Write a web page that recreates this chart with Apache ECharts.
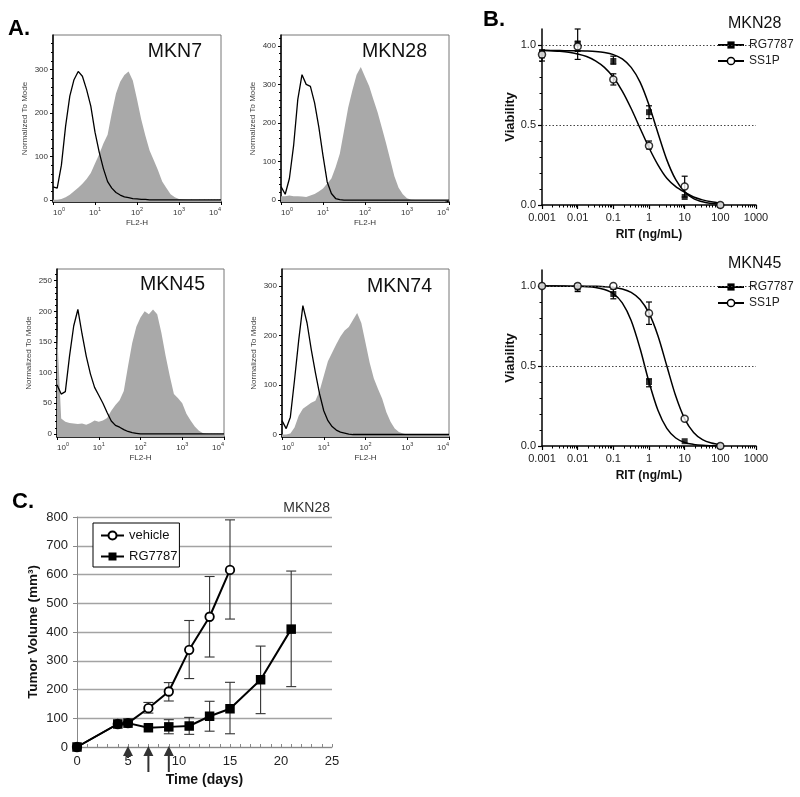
<!DOCTYPE html>
<html><head><meta charset="utf-8">
<script src="https://cdn.jsdelivr.net/npm/echarts@6/dist/echarts.min.js"></script>
<style>html,body{margin:0;padding:0;background:#fff}#c{width:800px;height:797px}</style>
</head><body><div id="c"></div><script>
const FONT = '"Liberation Sans", Arial, Helvetica, sans-serif';

// ---------- Panel A: flow cytometry histograms (x = log10 FL2-H) ----------
const LOGX = [0,0.1,0.2,0.3,0.4,0.5,0.6,0.7,0.8,0.9,1,1.1,1.2,1.3,1.4,1.5,1.6,1.7,1.8,1.9,2,2.1,2.2,2.3,2.4,2.5,2.6,2.7,2.8,2.9,3,3.1,3.2,3.3,3.4,3.5,3.6,3.7,3.8,3.9,4];
const MKN7_STAINED  = [0,0,2,6,12,20,28,37,48,62,84,105,130,150,200,245,272,288,296,275,232,186,148,114,91,68,42,27,13,6,2,1,0,0,0,0,0,0,0,0,0];
const MKN7_CONTROL  = [30,27,80,170,239,277,296,285,254,216,156,110,72,42,27,17,11,7,5,3,2,1,1,0,0,0,0,0,0,0,0,0,0,0,0,0,0,0,0,0,0];
const MKN28_STAINED = [10,10,12,10,10,9,8,12,16,22,30,43,56,85,120,180,240,285,325,345,320,295,261,228,188,148,105,62,32,15,5,1,0,0,0,0,0,0,0,0,0];
const MKN28_CONTROL = [35,15,56,141,261,325,300,295,252,190,115,47,17,4,1,0,0,0,0,0,0,0,0,0,0,0,0,0,0,0,0,0,0,0,0,0,0,0,0,0,0];
const MKN45_STAINED = [170,25,20,18,17,16,17,15,18,22,20,22,26,38,47,55,70,110,148,175,190,200,195,203,195,165,128,95,65,58,50,33,22,12,5,1,0,0,0,0,0];
const MKN45_CONTROL = [80,65,69,127,176,203,163,127,98,76,63,50,35,21,14,11,7,4,2,1,0,0,0,0,0,0,0,0,0,0,0,0,0,0,0,0,0,0,0,0,0];
const MKN74_STAINED = [0,0,2,14,38,52,58,64,68,88,118,148,165,182,198,210,217,231,245,225,185,145,113,92,72,45,26,12,5,2,0,0,0,0,0,0,0,0,0,0,0];
const MKN74_CONTROL = [28,12,35,110,190,260,225,172,125,82,48,28,16,9,5,3,1,0,0,0,0,0,0,0,0,0,0,0,0,0,0,0,0,0,0,0,0,0,0,0,0];
const A_YTICKS_MKN7  = [0,100,200,300];
const A_YTICKS_MKN28 = [0,100,200,300,400];
const A_YTICKS_MKN45 = [0,50,100,150,200,250];
const A_YTICKS_MKN74 = [0,100,200,300];

// ---------- Panel B: dose response ----------
const B_DOSES = [0.001, 0.01, 0.1, 1, 10, 100];
const B_TICK_LABELS = ['0.001','0.01','0.1','1','10','100','1000'];
const MKN28_RG_MEAN = [0.95, 1.01, 0.90, 0.58, 0.05, 0.0];
const MKN28_RG_LO   = [0.92, 0.91, 0.88, 0.54, 0.05, 0.0];
const MKN28_RG_HI   = [0.97, 1.10, 0.93, 0.62, 0.05, 0.0];
const MKN28_SS_MEAN = [0.94, 0.99, 0.785, 0.37, 0.115, 0.0];
const MKN28_SS_LO   = [0.90, 0.96, 0.75, 0.35, 0.05, 0.0];
const MKN28_SS_HI   = [0.96, 1.02, 0.82, 0.40, 0.18, 0.0];
const MKN45_RG_MEAN = [1.0, 0.99, 0.95, 0.40, 0.03, 0.0];
const MKN45_RG_LO   = [1.0, 0.965, 0.92, 0.37, 0.03, 0.0];
const MKN45_RG_HI   = [1.0, 1.015, 0.98, 0.42, 0.03, 0.0];
const MKN45_SS_MEAN = [1.0, 1.0, 1.0, 0.83, 0.17, 0.0];
const MKN45_SS_LO   = [1.0, 1.0, 1.0, 0.76, 0.17, 0.0];
const MKN45_SS_HI   = [1.0, 1.0, 1.0, 0.90, 0.17, 0.0];
const FIT_X = [0.001,0.00178,0.00316,0.00562,0.01,0.0178,0.0316,0.0562,0.1,0.178,0.316,0.562,1,1.78,3.16,5.62,10,17.8,31.6,56.2,100];
const MKN28_RG_FIT = [0.965,0.965,0.965,0.964,0.964,0.962,0.959,0.953,0.940,0.913,0.860,0.768,0.625,0.450,0.282,0.158,0.082,0.040,0.020,0.009,0.005];
const MKN28_SS_FIT = [0.967,0.964,0.961,0.955,0.944,0.928,0.901,0.860,0.798,0.712,0.603,0.480,0.358,0.251,0.167,0.115,0.080,0.050,0.032,0.020,0.012];
const MKN45_RG_FIT = [1.0,1.0,0.999,0.999,0.998,0.996,0.991,0.978,0.952,0.894,0.784,0.609,0.400,0.223,0.110,0.050,0.022,0.010,0.004,0.002,0.001];
const MKN45_SS_FIT = [1.0,1.0,1.0,0.999,0.999,0.999,0.998,0.996,0.991,0.981,0.960,0.915,0.830,0.689,0.500,0.312,0.170,0.085,0.040,0.019,0.009];

// ---------- Panel C: xenograft growth ----------
const C_DAYS_VEH = [0,4,5,7,9,11,13,15];
const C_VEH      = [0,80,83,135,193,338,453,616];
const C_VEH_LO   = [0,80,83,118,160,238,313,445];
const C_VEH_HI   = [0,80,83,155,224,440,593,790];
const C_DAYS_RG  = [0,4,5,7,9,11,13,15,18,21];
const C_RG       = [0,80,83,67,70,73,107,133,234,410];
const C_RG_LO    = [0,80,83,67,46,44,55,46,116,210];
const C_RG_HI    = [0,80,83,67,95,103,159,225,351,612];
const DOSE_DAYS  = [5,7,9];
const ARROW_LEN  = [11,25,25]; // style: pixel length of each dose arrow

// ---------- helpers ----------
const pairs = (xs, ys) => xs.map((x, i) => [x, ys[i]]);
const grid = [], xAxis = [], yAxis = [], series = [], legend = [], graphic = [];

function errorBars(xi, yi, xs, lo, hi, cap, color, width, z) {
  const data = [];
  xs.forEach((x, i) => { if (hi[i] > lo[i]) data.push([x, lo[i], hi[i]]); });
  return {
    type: 'custom', xAxisIndex: xi, yAxisIndex: yi, data, encode: {x: 0, y: [1, 2]},
    silent: true, z, clip: false,
    renderItem: (p, api) => {
      const a = api.coord([api.value(0), api.value(1)]);
      const b = api.coord([api.value(0), api.value(2)]);
      const st = () => ({stroke: color, lineWidth: width, fill: null});
      return {type: 'group', children: [
        {type: 'line', shape: {x1: a[0], y1: a[1], x2: b[0], y2: b[1]}, style: st()},
        {type: 'line', shape: {x1: a[0]-cap, y1: a[1], x2: a[0]+cap, y2: a[1]}, style: st()},
        {type: 'line', shape: {x1: b[0]-cap, y1: b[1], x2: b[0]+cap, y2: b[1]}, style: st()}
      ]};
    }
  };
}
function txt(text, x, y, size, weight, align, color) {
  return {type: 'text', x, y, z: 100, silent: true, style: {
    text, fill: color || '#000', fontSize: size, fontWeight: weight || 'normal', fontFamily: FONT,
    textAlign: align || 'left', textVerticalAlign: 'middle', align: align || 'left', verticalAlign: 'middle'}};
}

// ---------- Panel A ----------
const LOG_MINOR = [];
for (let k = 0; k < 4; k++) for (let m = 2; m <= 9; m++) LOG_MINOR.push(k + Math.log10(m));

const HIST = [
  {title: 'MKN7',  st: MKN7_STAINED,  ct: MKN7_CONTROL,  ticks: A_YTICKS_MKN7,  yMax: 380, minorStep: 20, rect: [53, 35, 168, 167],  tx: 202, ty: 52, ta: 'right'},
  {title: 'MKN28', st: MKN28_STAINED, ct: MKN28_CONTROL, ticks: A_YTICKS_MKN28, yMax: 428, minorStep: 20, rect: [281, 35, 168, 167], tx: 362, ty: 52, ta: 'left'},
  {title: 'MKN45', st: MKN45_STAINED, ct: MKN45_CONTROL, ticks: A_YTICKS_MKN45, yMax: 269, minorStep: 10, rect: [57, 269, 167, 168], tx: 140, ty: 285, ta: 'left'},
  {title: 'MKN74', st: MKN74_STAINED, ct: MKN74_CONTROL, ticks: A_YTICKS_MKN74, yMax: 334, minorStep: 20, rect: [282, 269, 167, 168], tx: 367, ty: 287, ta: 'left'}
];
HIST.forEach(h => {
  const gi = grid.length;
  grid.push({left: h.rect[0], top: h.rect[1], width: h.rect[2], height: h.rect[3], show: true, borderColor: '#777', borderWidth: 1, backgroundColor: 'transparent'});
  const xi = xAxis.length, yi = yAxis.length;
  xAxis.push({gridIndex: gi, type: 'value', min: 0, max: 4, interval: 1, position: 'bottom',
    axisLine: {onZero: false, lineStyle: {color: '#000', width: 1.5}},
    axisTick: {length: 3, lineStyle: {color: '#000'}},
    axisLabel: {margin: 4, formatter: v => '{b|10}{s|' + v + '}', alignMinLabel: 'left', alignMaxLabel: 'right',
      rich: {b: {fontSize: 8, fontFamily: FONT, color: '#333', lineHeight: 14},
             s: {fontSize: 5.5, fontFamily: FONT, color: '#333', lineHeight: 6, verticalAlign: 'top'}}},
    splitLine: {show: false},
    name: 'FL2-H', nameLocation: 'middle', nameGap: 17, nameTextStyle: {fontSize: 8, fontFamily: FONT, color: '#333'}});
  xAxis.push({gridIndex: gi, type: 'value', min: 0, max: 4, position: 'bottom',
    axisLine: {show: false}, axisTick: {show: true, length: 2, customValues: LOG_MINOR, lineStyle: {color: '#000'}},
    axisLabel: {show: false}, splitLine: {show: false}});
  const minor = [];
  for (let v = h.minorStep; v < h.yMax; v += h.minorStep) if (h.ticks.indexOf(v) < 0) minor.push(v);
  yAxis.push({gridIndex: gi, type: 'value', min: -5, max: h.yMax, position: 'left',
    axisLine: {onZero: false, lineStyle: {color: '#000', width: 1.5}},
    axisTick: {length: 3, customValues: h.ticks, lineStyle: {color: '#000'}},
    axisLabel: {customValues: h.ticks, margin: 5, fontSize: 8, fontFamily: FONT, color: '#333'},
    splitLine: {show: false},
    name: 'Normalized To Mode', nameLocation: 'middle', nameGap: 24, nameTextStyle: {fontSize: 8, fontFamily: FONT, color: '#444'}});
  yAxis.push({gridIndex: gi, type: 'value', min: -5, max: h.yMax, position: 'left',
    axisLine: {show: false}, axisTick: {show: true, length: 2, customValues: minor, lineStyle: {color: '#000'}},
    axisLabel: {show: false}, splitLine: {show: false}});
  series.push({type: 'line', xAxisIndex: xi, yAxisIndex: yi, data: pairs(LOGX, h.st), symbol: 'none', silent: true,
    lineStyle: {width: 0, color: '#a9a9a9'}, areaStyle: {color: '#a9a9a9', opacity: 1, origin: 'start'}, z: 2});
  series.push({type: 'line', xAxisIndex: xi, yAxisIndex: yi, data: pairs(LOGX, h.ct), symbol: 'none', silent: true,
    lineStyle: {width: 1.3, color: '#000'}, z: 3});
  graphic.push(txt(h.title, h.tx, h.ty, 19.5, 'normal', h.ta, '#111'));
});

// ---------- Panel B ----------
const B_MINOR = [];
for (let k = -3; k <= 2; k++) for (let m = 2; m <= 9; m++) B_MINOR.push(Number((m * Math.pow(10, k)).toPrecision(2)));
const BP = [
  {title: 'MKN28', rect: [542, 29, 214, 176], ty: 24, legTop: 39,
   rg: [MKN28_RG_FIT, MKN28_RG_MEAN, MKN28_RG_LO, MKN28_RG_HI], ss: [MKN28_SS_FIT, MKN28_SS_MEAN, MKN28_SS_LO, MKN28_SS_HI]},
  {title: 'MKN45', rect: [542, 270, 214, 176], ty: 264, legTop: 281,
   rg: [MKN45_RG_FIT, MKN45_RG_MEAN, MKN45_RG_LO, MKN45_RG_HI], ss: [MKN45_SS_FIT, MKN45_SS_MEAN, MKN45_SS_LO, MKN45_SS_HI]}
];
BP.forEach(b => {
  const gi = grid.length;
  grid.push({left: b.rect[0], top: b.rect[1], width: b.rect[2], height: b.rect[3]});
  const xi = xAxis.length, yi = yAxis.length;
  xAxis.push({gridIndex: gi, type: 'log', logBase: 10, min: 0.001, max: 1000, position: 'bottom',
    axisLine: {onZero: false, lineStyle: {color: '#000', width: 1.5}},
    axisTick: {length: 4, lineStyle: {color: '#000', width: 1.2}},
    axisLabel: {margin: 7, fontSize: 11, fontFamily: FONT, color: '#222',
      formatter: v => B_TICK_LABELS[Math.round(Math.log10(v)) + 3]},
    splitLine: {show: false},
    name: 'RIT (ng/mL)', nameLocation: 'middle', nameGap: 24,
    nameTextStyle: {fontSize: 12, fontWeight: 'bold', fontFamily: FONT, color: '#111'}});
  xAxis.push({gridIndex: gi, type: 'log', logBase: 10, min: 0.001, max: 1000, position: 'bottom',
    axisLine: {show: false}, axisTick: {show: true, length: 2.5, customValues: B_MINOR, lineStyle: {color: '#000'}},
    axisLabel: {show: false}, splitLine: {show: false}});
  yAxis.push({gridIndex: gi, type: 'value', min: 0, max: 1.1, position: 'left',
    axisLine: {onZero: false, lineStyle: {color: '#000', width: 1.5}},
    axisTick: {length: 4, customValues: [0, 0.5, 1], lineStyle: {color: '#000', width: 1.2}},
    axisLabel: {customValues: [0, 0.5, 1], formatter: v => Number(v).toFixed(1), margin: 6, fontSize: 11, fontFamily: FONT, color: '#222'},
    splitLine: {show: false},
    name: 'Viability', nameLocation: 'middle', nameGap: 16,
    nameTextStyle: {fontSize: 13, fontWeight: 'bold', fontFamily: FONT, color: '#111'}});
  yAxis.push({gridIndex: gi, type: 'value', min: 0, max: 1.1, position: 'left',
    axisLine: {show: false}, axisTick: {show: true, length: 2.5, customValues: [0.1,0.2,0.3,0.4,0.6,0.7,0.8,0.9], lineStyle: {color: '#000'}},
    axisLabel: {show: false}, splitLine: {show: false}});
  series.push({type: 'line', name: 'RG7787', xAxisIndex: xi, yAxisIndex: yi, data: pairs(FIT_X, b.rg[0]),
    symbol: 'rect', symbolSize: 6, showSymbol: false, smooth: 0.3, silent: true,
    itemStyle: {color: '#000'}, lineStyle: {color: '#000', width: 1.5}, z: 2,
    markLine: {silent: true, symbol: ['none', 'none'], label: {show: false}, animation: false,
      lineStyle: {type: [1.5, 2], color: '#444', width: 1}, data: [{yAxis: 1.0}, {yAxis: 0.5}]}});
  series.push({type: 'line', name: 'SS1P', xAxisIndex: xi, yAxisIndex: yi, data: pairs(FIT_X, b.ss[0]),
    symbol: 'circle', symbolSize: 7, showSymbol: false, smooth: 0.3, silent: true,
    itemStyle: {color: '#fff', borderColor: '#000', borderWidth: 1.5}, lineStyle: {color: '#000', width: 1.5}, z: 2});
  series.push(errorBars(xi, yi, B_DOSES, b.rg[2], b.rg[3], 3, '#000', 1.2, 3));
  series.push(errorBars(xi, yi, B_DOSES, b.ss[2], b.ss[3], 3, '#000', 1.2, 3));
  series.push({type: 'scatter', xAxisIndex: xi, yAxisIndex: yi, data: pairs(B_DOSES, b.rg[1]), silent: true,
    symbol: 'rect', symbolSize: 6, itemStyle: {color: '#000'}, z: 5});
  series.push({type: 'scatter', xAxisIndex: xi, yAxisIndex: yi, data: pairs(B_DOSES, b.ss[1]), silent: true,
    symbol: 'circle', symbolSize: 7, itemStyle: {color: '#fff', borderColor: '#000', borderWidth: 1.5}, z: 6});
  legend.push({data: [{name: 'RG7787'}, {name: 'SS1P', itemStyle: {color: '#fff', borderColor: '#000', borderWidth: 1.5}}],
    orient: 'vertical', left: 717, top: b.legTop, itemWidth: 26, itemHeight: 9, itemGap: 4, padding: 0,
    selectedMode: false, textStyle: {fontSize: 12, fontFamily: FONT, color: '#222'}});
  graphic.push(txt(b.title, 728, b.ty, 16, 'normal', 'left', '#111'));
});

// ---------- Panel C ----------
{
  const gi = grid.length;
  grid.push({left: 77, top: 517, width: 255, height: 230});
  const xi = xAxis.length, yi = yAxis.length;
  xAxis.push({gridIndex: gi, type: 'value', min: 0, max: 25, interval: 5, position: 'bottom',
    axisLine: {onZero: false, lineStyle: {color: '#888', width: 1}},
    axisTick: {inside: true, length: 3, lineStyle: {color: '#888'}},
    minorTick: {show: true, splitNumber: 5, length: 3, lineStyle: {color: '#888'}},
    axisLabel: {margin: 8, fontSize: 13, fontFamily: FONT, color: '#222'},
    splitLine: {show: false},
    name: 'Time (days)', nameLocation: 'middle', nameGap: 26,
    nameTextStyle: {fontSize: 14, fontWeight: 'bold', fontFamily: FONT, color: '#111'}});
  yAxis.push({gridIndex: gi, type: 'value', min: 0, max: 800, interval: 100, position: 'left',
    axisLine: {show: true, lineStyle: {color: '#888', width: 1}},
    axisTick: {show: true, length: 4, lineStyle: {color: '#888'}},
    axisLabel: {margin: 9, fontSize: 13, fontFamily: FONT, color: '#222'},
    splitLine: {show: true, lineStyle: {color: '#a3a3a3', width: 1.3}},
    name: 'Tumor Volume (mm³)', nameLocation: 'middle', nameGap: 37,
    nameTextStyle: {fontSize: 13.5, fontWeight: 'bold', fontFamily: FONT, color: '#111'}});
  series.push(errorBars(xi, yi, C_DAYS_VEH, C_VEH_LO, C_VEH_HI, 5, '#333', 1.1, 1));
  series.push(errorBars(xi, yi, C_DAYS_RG, C_RG_LO, C_RG_HI, 5, '#333', 1.1, 1));
  series.push({type: 'line', name: 'vehicle', xAxisIndex: xi, yAxisIndex: yi, data: pairs(C_DAYS_VEH, C_VEH), silent: true,
    symbol: 'circle', symbolSize: 8.5, itemStyle: {color: '#fff', borderColor: '#000', borderWidth: 1.8},
    lineStyle: {color: '#000', width: 2}, z: 3});
  series.push({type: 'line', name: 'RG7787 (C)', xAxisIndex: xi, yAxisIndex: yi, data: pairs(C_DAYS_RG, C_RG), silent: true,
    symbol: 'rect', symbolSize: 9.5, itemStyle: {color: '#000'},
    lineStyle: {color: '#000', width: 2}, z: 4});
  series.push({type: 'custom', xAxisIndex: xi, yAxisIndex: yi, data: DOSE_DAYS.map(d => [d, 0]), encode: {x: 0, y: 1},
    silent: true, clip: false, z: 6,
    renderItem: (p, api) => {
      const c = api.coord([api.value(0), api.value(1)]);
      const len = ARROW_LEN[p.dataIndex];
      return {type: 'group', children: [
        {type: 'polygon', shape: {points: [[c[0], c[1] - 1], [c[0] - 5, c[1] + 9], [c[0] + 5, c[1] + 9]]}, style: {fill: '#333'}},
        {type: 'rect', shape: {x: c[0] - 1, y: c[1] + 8, width: 2, height: len - 8}, style: {fill: '#333'}}
      ]};
    }});
  legend.push({data: [{name: 'vehicle', itemStyle: {color: '#fff', borderColor: '#000', borderWidth: 2}}, {name: 'RG7787 (C)'}],
    formatter: n => n === 'RG7787 (C)' ? 'RG7787' : n,
    orient: 'vertical', left: 93, top: 523, itemWidth: 23, itemHeight: 10, itemGap: 8, padding: [6, 2, 4, 7],
    borderColor: '#000', borderWidth: 1, backgroundColor: '#fff', selectedMode: false,
    textStyle: {fontSize: 13, fontFamily: FONT, color: '#111'}});
  graphic.push(txt('MKN28', 330, 508, 14, 'normal', 'right', '#333'));
}

graphic.push(txt('A.', 8, 28.5, 22, 'bold', 'left', '#000'));
graphic.push(txt('B.', 483, 19.5, 22, 'bold', 'left', '#000'));
graphic.push(txt('C.', 12, 502, 22, 'bold', 'left', '#000'));

const chart = echarts.init(document.getElementById('c'), null, {renderer: 'canvas', width: 800, height: 797});
chart.setOption({animation: false, backgroundColor: '#fff', textStyle: {fontFamily: FONT},
  grid, xAxis, yAxis, series, legend, graphic});
</script></body></html>
